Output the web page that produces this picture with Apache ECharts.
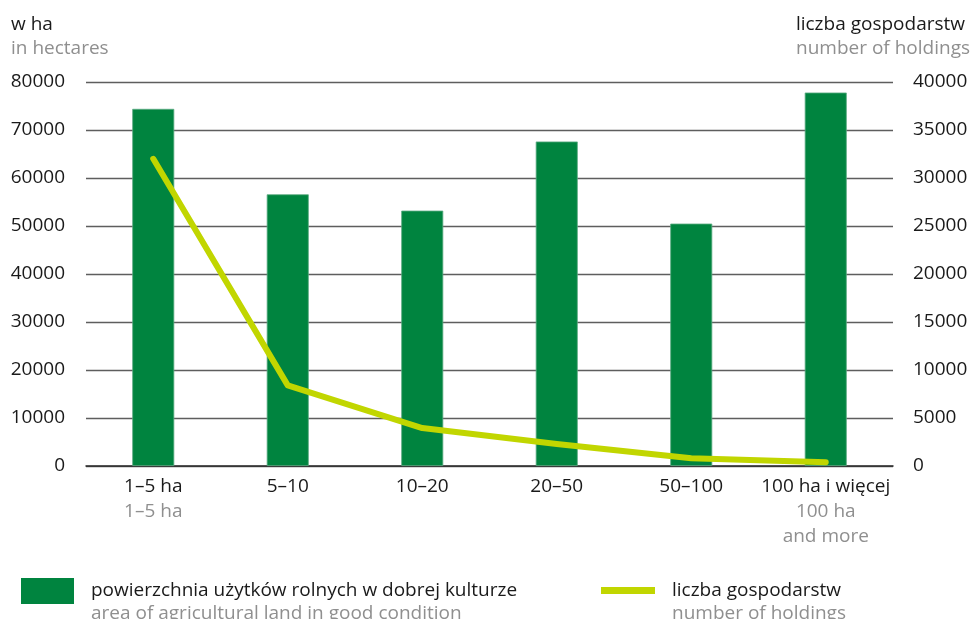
<!DOCTYPE html>
<html>
<head>
<meta charset="utf-8">
<script src="https://cdn.jsdelivr.net/npm/echarts@6/dist/echarts.min.js"></script>
<style>
html,body{margin:0;padding:0;background:#fff;}
#c{width:971px;height:619px;}
</style>
</head>
<body>
<div id="c"></div>
<script>
const categoriesPl = ['1–5 ha', '5–10', '10–20', '20–50', '50–100', '100 ha i więcej'];
const categoriesEn = ['1–5 ha', '', '', '', '', '100 ha\nand more'];
const areaValues = [74400, 56600, 53200, 67600, 50500, 77800];
const holdingsValues = [32000, 8400, 3950, 2300, 800, 400];
const seriesNamesPl = ['powierzchnia użytków rolnych w dobrej kulturze', 'liczba gospodarstw'];
const seriesNamesEn = ['area of agricultural land in good condition', 'number of holdings'];
const axisTitlesPl = ['w ha', 'liczba gospodarstw'];
const axisTitlesEn = ['in hectares', 'number of holdings'];

const FONT = '"Open Sans", sans-serif';
const BLACK = '#1a1a1a';
const GRAY = '#8f8f8f';
const GREEN = '#00843f';
const LIME = '#c1d600';

const chart = echarts.init(document.getElementById('c'), null, {renderer: 'canvas'});

const catLabels = categoriesPl.map((p, i) => {
  const en = categoriesEn[i];
  if (!en) return '{a|' + p + '}';
  return '{a|' + p + '}\n' + en.split('\n').map(s => '{b|' + s + '}').join('\n');
});

chart.setOption({
  animation: false,
  textStyle: {fontFamily: FONT},
  grid: {left: 86, right: 78, top: 82, bottom: 153, containLabel: false},
  legend: [
    {
      data: [{name: seriesNamesPl[0], icon: 'rect'}],
      left: 21, top: 578, padding: 0,
      itemWidth: 53, itemHeight: 26,
      selectedMode: false,
      itemStyle: {borderWidth: 0},
      textStyle: {fontFamily: FONT, fontSize: 19, color: BLACK, padding: [0, 0, 9, 12]}
    },
    {
      data: [{name: seriesNamesPl[1], icon: 'rect'}],
      left: 601, top: 581, padding: 0,
      itemWidth: 54, itemHeight: 7,
      selectedMode: false,
      itemStyle: {color: LIME, borderWidth: 0},
      textStyle: {fontFamily: FONT, fontSize: 19, color: BLACK, padding: [0, 0, 9, 12]}
    }
  ],
  graphic: [
    {type: 'text', x: 11, y: 25, style: {text: axisTitlesPl[0], font: '19px ' + FONT, fill: BLACK, verticalAlign: 'middle', align: 'left'}},
    {type: 'text', x: 11, y: 49, style: {text: axisTitlesEn[0], font: '19px ' + FONT, fill: GRAY, verticalAlign: 'middle', align: 'left'}},
    {type: 'text', x: 965, y: 25, style: {text: axisTitlesPl[1], font: '19px ' + FONT, fill: BLACK, verticalAlign: 'middle', align: 'right'}},
    {type: 'text', x: 970, y: 49, style: {text: axisTitlesEn[1], font: '19px ' + FONT, fill: GRAY, verticalAlign: 'middle', align: 'right'}},
    {type: 'text', x: 91, y: 614, style: {text: seriesNamesEn[0], font: '19px ' + FONT, fill: GRAY, verticalAlign: 'middle', align: 'left'}},
    {type: 'text', x: 672, y: 614, style: {text: seriesNamesEn[1], font: '19px ' + FONT, fill: GRAY, verticalAlign: 'middle', align: 'left'}}
  ],
  xAxis: {
    type: 'category',
    data: catLabels,
    axisTick: {show: false},
    axisLine: {show: true, lineStyle: {color: '#2a2a2a', width: 1.5}},
    axisLabel: {
      interval: 0,
      margin: 8,
      verticalAlign: 'top',
      rich: {
        a: {fontFamily: FONT, fontSize: 19, color: BLACK, lineHeight: 25},
        b: {fontFamily: FONT, fontSize: 19, color: GRAY, lineHeight: 25}
      }
    }
  },
  yAxis: [
    {
      type: 'value', min: 0, max: 80000, interval: 10000,
      axisLine: {show: false}, axisTick: {show: false},
      splitLine: {show: true, lineStyle: {color: '#5e5e5e', width: 1.4}},
      axisLabel: {margin: 21, fontFamily: FONT, fontSize: 19, color: BLACK, formatter: v => String(v)}
    },
    {
      type: 'value', min: 0, max: 40000, interval: 5000,
      axisLine: {show: false}, axisTick: {show: false},
      splitLine: {show: false},
      axisLabel: {margin: 20, fontFamily: FONT, fontSize: 19, color: BLACK, formatter: v => String(v)}
    }
  ],
  series: [
    {
      name: seriesNamesPl[0],
      type: 'bar',
      yAxisIndex: 0,
      data: areaValues,
      barWidth: 42,
      itemStyle: {color: GREEN, borderColor: '#5aab82', borderWidth: 0.8}
    },
    {
      name: seriesNamesPl[1],
      type: 'line',
      yAxisIndex: 1,
      data: holdingsValues,
      symbol: 'none',
      z: 5,
      lineStyle: {color: LIME, width: 6, cap: 'round', join: 'round'},
      itemStyle: {color: LIME}
    }
  ]
});
</script>
</body>
</html>
